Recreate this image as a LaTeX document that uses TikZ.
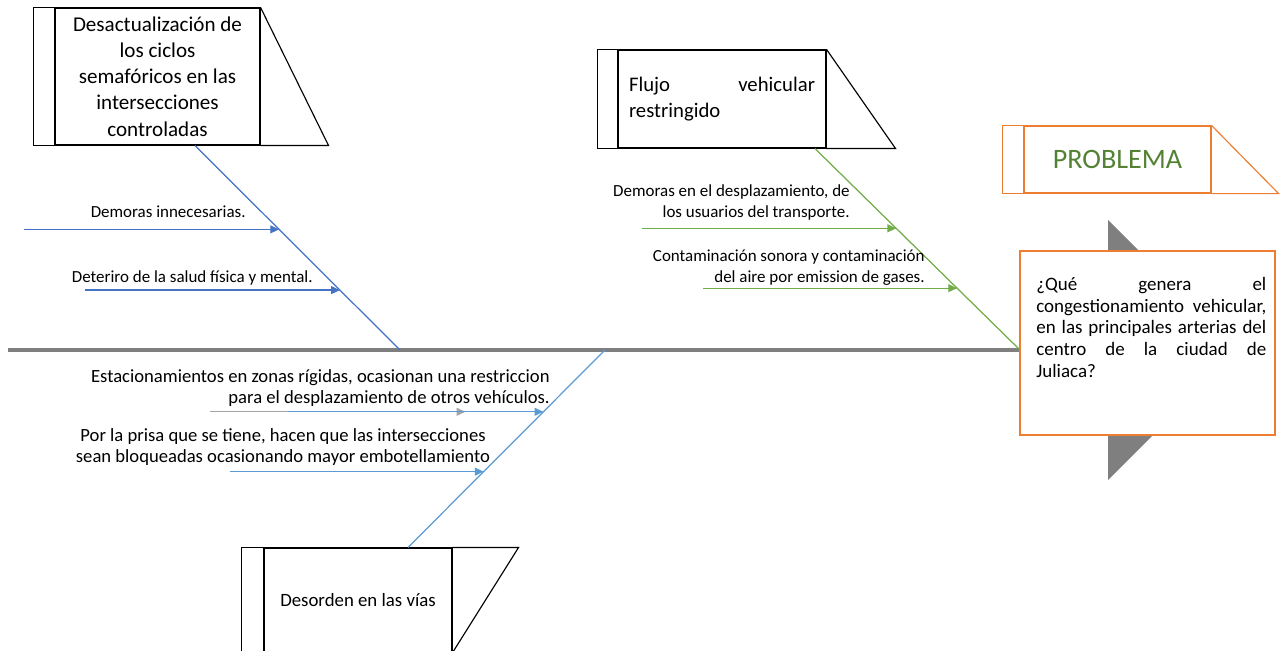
\documentclass[tikz,border=0pt]{standalone}
\usepackage{fontspec}
\setmainfont{Carlito}
\usetikzlibrary{arrows.meta, positioning, calc}

\definecolor{azulosc}{HTML}{4472C4}
\definecolor{azulcla}{HTML}{5B9BD5}
\definecolor{verde}{HTML}{70AD47}
\definecolor{verdetit}{HTML}{548235}
\definecolor{naranja}{HTML}{ED7D31}
\definecolor{gristr}{HTML}{7F7F7F}
\definecolor{grisfl}{HTML}{A5A5A5}

\begin{document}
\begin{tikzpicture}[
  x=0.02cm, y=-0.02cm,
  every node/.style={font=\fontsize{9.65}{11.8}\selectfont, inner sep=0pt},
  big/.style={font=\fontsize{10.6}{11.8}\selectfont},
  head/.style={draw, line width=0.65pt, fill=white, inner sep=0pt},
  deco/.style={line width=0.65pt},
  arr/.style={-{Triangle[length=5pt, width=4.5pt]}, line width=0.7pt},
  bone/.style={line width=0.7pt},
  spine/.style={line width=2pt, gristr},
]
  \clip (0,0) rectangle (1284,650);
  \fill[white] (0,0) rectangle (1284,650);

  % heads of the fishbone
  \node[head, minimum width=4.1cm, minimum height=2.74cm, align=center,
        font=\fontsize{12}{14.9}\selectfont] (h1) at (157.5,76.5)
        {Desactualización de\\los ciclos\\semafóricos en las\\intersecciones\\controladas};
  \draw[deco] (h1.north west) -- ++(-21,0) |- (h1.south west);
  \draw[deco] (h1.north east) -- ($(h1.south east)+(68,0)$) -- (h1.south east);

  \node[head, minimum width=4.16cm, minimum height=1.96cm, text width=3.72cm,
        align=justify, font=\fontsize{11.8}{14.7}\selectfont] (h2) at (722,99)
        {Flujo vehicular\linebreak restringido\par\vspace{-0.12cm}};
  \draw[deco] (h2.north west) -- ++(-20,0) |- (h2.south west);
  \draw[deco] (h2.north east) -- ($(h2.south east)+(69,0)$) -- (h2.south east);

  \node[head, minimum width=3.76cm, minimum height=2.08cm,
        font=\fontsize{10.7}{13}\selectfont] (h4) at (358,600)
        {Desorden en las vías};
  \draw[deco] (h4.north west) -- ++(-22,0) |- (h4.south west);
  \draw[deco] (h4.south east) -- ($(h4.north east)+(66,0)$) -- (h4.north east);

  \node[head, draw=naranja, minimum width=3.74cm, minimum height=1.34cm,
        text=verdetit, font=\fontsize{16}{19}\selectfont] (prob) at (1117.5,159.5) {PROBLEMA};
  \draw[deco, naranja] (prob.north west) -- ++(-21,0) |- (prob.south west);
  \draw[deco, naranja] (prob.north east) -- ($(prob.south east)+(67,0)$) -- (prob.south east);

  % effect box with the grey chevron behind
  \fill[gristr] (1108,220) -- (1238,350) -- (1108,480) -- cycle;
  \node[head, draw=naranja, minimum width=5.1cm, minimum height=3.68cm] (q) at (1147.5,343) {};
  \node[anchor=north west, text width=4.6cm, align=justify,
        font=\fontsize{10.8}{12.35}\selectfont] (qt) at (1036,277)
        {¿Qué genera el\linebreak congestionamiento vehicular,\linebreak en las principales arterias del\linebreak
         centro de la ciudad de\linebreak Juliaca?};

  % spine
  \coordinate (tail) at (8,350);
  \draw[spine] (tail) -- (tail -| q.west);

  % bones
  \coordinate (b1) at ($(h1.south)+(37.5,0)$);
  \coordinate (s1) at (400,350);
  \draw[bone, azulosc] (b1) -- (s1);
  \coordinate (b2) at ($(h2.south)+(93,0)$);
  \coordinate (s2) at (1020,350);
  \draw[bone, verde] (b2) -- (s2);
  \coordinate (b4) at ($(h4.north)+(50,0)$);
  \coordinate (s4) at (605,350);
  \draw[bone, azulcla] (s4) -- (b4);

  % causes
  \foreach \t/\n in {0.41/1, 0.707/2} {
    \coordinate (e1\n) at ($(b1)!\t!(s1)$);
    \coordinate (o1\n) at ($(e1\n)+(-255,0)$);
    \draw[arr, azulosc] (o1\n) -- (e1\n);
  }
  \foreach \t/\n in {0.396/1, 0.693/2} {
    \coordinate (e2\n) at ($(b2)!\t!(s2)$);
    \coordinate (o2\n) at ($(e2\n)+(-254,0)$);
    \draw[arr, verde] (o2\n) -- (e2\n);
  }
  \coordinate (e41) at ($(s4)!0.313!(b4)$);
  \coordinate (g41) at ($(e41)+(-78,0)$);
  \coordinate (o41) at ($(g41)+(-255,0)$);
  \draw[arr, grisfl] (o41) -- (g41);
  \draw[arr, azulcla] ($(e41)+(-255,0)$) coordinate (p41) -- (e41);
  \coordinate (e42) at ($(s4)!0.616!(b4)$);
  \coordinate (o42) at ($(e42)+(-254,0)$);
  \draw[arr, azulcla] (o42) -- (e42);

  \node[anchor=east] (c11) at (246,212) {Demoras innecesarias.};
  \node[anchor=east] (c12) at (313,278) {Deteriro de la salud física y mental.};
  \node[anchor=east, align=right] (c21) at (850,202.5)
        {Demoras en el desplazamiento, de\\los usuarios del transporte.};
  \node[anchor=east, align=right] (c22) at (925,267.5)
        {Contaminación sonora y contaminación\\del aire por emission de gases.};
  \node[big, anchor=east, align=right] (c41) at (550,388)
        {Estacionamientos en zonas rígidas, ocasionan una restriccion\\para el desplazamiento de otros vehículos.};
  \node[big, align=center] (c42) at (283,447)
        {Por la prisa que se tiene, hacen que las intersecciones\\sean bloqueadas ocasionando mayor embotellamiento};
\end{tikzpicture}
\end{document}
